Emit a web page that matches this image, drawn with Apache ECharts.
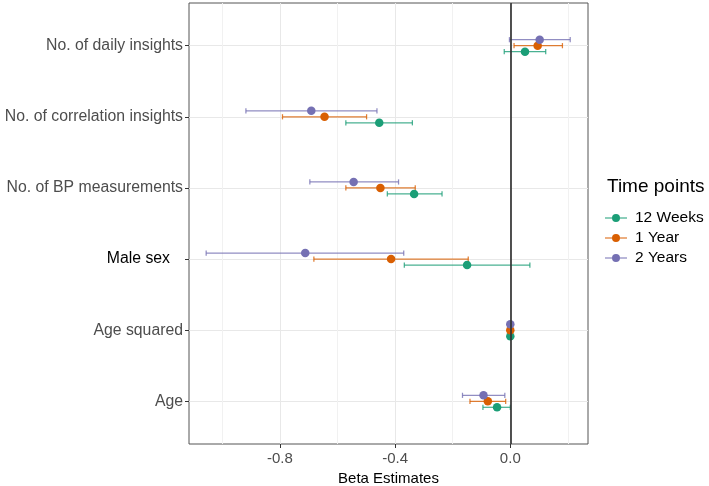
<!DOCTYPE html>
<html><head><meta charset="utf-8">
<script src="https://cdn.jsdelivr.net/npm/echarts@6/dist/echarts.min.js"></script>
<style>html,body{margin:0;padding:0;background:#fff}#c{width:709px;height:486px}</style>
</head><body><div id="c"></div>
<script>
// Categories, bottom to top
const categories = ["Age", "Age squared", "Male sex", "No. of BP measurements", "No. of correlation insights", "No. of daily insights"];
const seriesNames = ["12 Weeks", "1 Year", "2 Years"];

const weeks12Est = [-0.046, 0.000, -0.150, -0.334, -0.455, 0.051];
const weeks12Lo  = [-0.095, -0.001, -0.368, -0.427, -0.571, -0.021];
const weeks12Hi  = [0.000, 0.001, 0.068, -0.237, -0.340, 0.123];

const year1Est = [-0.078, 0.000, -0.414, -0.451, -0.645, 0.095];
const year1Lo  = [-0.140, -0.001, -0.682, -0.571, -0.791, 0.013];
const year1Hi  = [-0.016, 0.001, -0.146, -0.330, -0.499, 0.181];

const year2Est = [-0.093, 0.000, -0.712, -0.544, -0.691, 0.102];
const year2Lo  = [-0.166, -0.001, -1.056, -0.696, -0.918, -0.003];
const year2Hi  = [-0.019, 0.001, -0.370, -0.388, -0.463, 0.208];

const xMajorTicks = [-0.8, -0.4, 0.0];
const xMinorTicks = [-1.0, -0.6, -0.2, 0.2];
const yTicks = [1, 2, 3, 4, 5, 6];

const colors = ["#1b9e77", "#d95f02", "#7570b3"];
const dodge = [-0.084, 0, 0.084];
const FONT = "'Liberation Sans', Arial, sans-serif";

const groups = [
  {est: weeks12Est, lo: weeks12Lo, hi: weeks12Hi},
  {est: year1Est, lo: year1Lo, hi: year1Hi},
  {est: year2Est, lo: year2Lo, hi: year2Hi}
];

const series = [];
groups.forEach((g, k) => {
  series.push({
    name: seriesNames[k],
    type: 'custom',
    z: 3,
    itemStyle: {color: colors[k]},
    encode: {x: [0, 1], y: 2},
    data: categories.map((c, i) => [g.lo[i], g.hi[i], i + 1 + dodge[k]]),
    renderItem: function (params, api) {
      const a = api.coord([api.value(0), api.value(2)]);
      const b = api.coord([api.value(1), api.value(2)]);
      const h = 2.6;
      const st = {stroke: colors[k], lineWidth: 1.25, opacity: 0.8};
      return {type: 'group', children: [
        {type: 'line', shape: {x1: a[0], y1: a[1], x2: b[0], y2: b[1]}, style: st},
        {type: 'line', shape: {x1: a[0], y1: a[1] - h, x2: a[0], y2: a[1] + h}, style: st},
        {type: 'line', shape: {x1: b[0], y1: b[1] - h, x2: b[0], y2: b[1] + h}, style: st}
      ]};
    }
  });
});
groups.forEach((g, k) => {
  series.push({
    name: seriesNames[k],
    type: 'scatter',
    z: 4,
    symbol: 'circle',
    symbolSize: 8.5,
    itemStyle: {color: colors[k], opacity: 1},
    data: categories.map((c, i) => [g.est[i], i + 1 + dodge[k]])
  });
});
series.push({
  type: 'line',
  z: 6,
  data: [],
  markLine: {
    silent: true, symbol: 'none', animation: false,
    label: {show: false},
    lineStyle: {color: '#333333', width: 1.7, type: 'solid'},
    data: [{xAxis: 0}]
  }
});

const iconPath = 'path://M0,3.4 L22,3.4 L22,4.6 L0,4.6 Z M7,4 A4,4 0 1,1 15,4 A4,4 0 1,1 7,4 Z';

const option = {
  animation: false,
  backgroundColor: '#ffffff',
  textStyle: {fontFamily: FONT},
  title: {
    text: 'Time points', left: 607, top: 177, padding: 0,
    textStyle: {fontSize: 19, fontWeight: 'normal', color: '#000', fontFamily: FONT}
  },
  legend: {
    orient: 'vertical', left: 605, top: 210, padding: 0,
    itemWidth: 22, itemHeight: 8, itemGap: 4,
    textStyle: {fontSize: 15.5, color: '#000', fontFamily: FONT, lineHeight: 16, padding: [0, 0, 0, 3]},
    data: seriesNames.map((n, k) => ({name: n, icon: iconPath, itemStyle: {color: colors[k]}}))
  },
  grid: {
    left: 189, right: 121, top: 3, bottom: 42,
    containLabel: false, outerBoundsMode: 'none',
    show: true, borderColor: '#555', borderWidth: 1, backgroundColor: 'transparent'
  },
  xAxis: [
    {
      type: 'value', min: -1.1156, max: 0.2698,
      axisLine: {show: false, onZero: false},
      axisTick: {show: true, length: 4, customValues: xMajorTicks, lineStyle: {color: '#333'}},
      axisLabel: {customValues: xMajorTicks, margin: 7, fontSize: 15, color: '#4d4d4d', fontFamily: FONT,
        formatter: v => Number(v).toFixed(1)},
      splitLine: {show: true, lineStyle: {color: '#e8e8e8', width: 1}},
      name: 'Beta Estimates', nameLocation: 'middle', nameGap: 19,
      nameTextStyle: {fontSize: 15, color: '#000', fontFamily: FONT}
    },
    {
      type: 'value', min: -1.1156, max: 0.2698, position: 'bottom',
      axisLine: {show: false, onZero: false},
      axisTick: {show: false, customValues: xMinorTicks},
      axisLabel: {show: false, customValues: xMinorTicks},
      splitLine: {show: true, lineStyle: {color: '#f1f1f1', width: 1}}
    }
  ],
  yAxis: {
    type: 'value', min: 0.4, max: 6.6, position: 'left',
    axisLine: {show: false, onZero: false},
    axisTick: {show: true, length: 4, customValues: yTicks, lineStyle: {color: '#333'}},
    axisLabel: {
      customValues: yTicks, margin: 6, fontSize: 15.8, color: '#4d4d4d', fontFamily: FONT,
      formatter: v => {
        const name = categories[Math.round(v) - 1];
        return name === 'Male sex' ? '{m|' + name + '}' : name;
      },
      rich: {m: {color: '#000', fontSize: 15.8, fontFamily: FONT, padding: [0, 13, 0, 0]}}
    },
    splitLine: {show: true, lineStyle: {color: '#e8e8e8', width: 1}}
  },
  series: series
};

const chart = echarts.init(document.getElementById('c'), null, {renderer: 'canvas'});
chart.setOption(option);
</script>
</body></html>
